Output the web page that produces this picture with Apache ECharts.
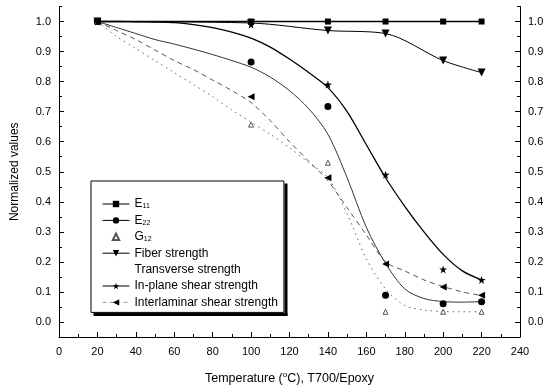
<!DOCTYPE html>
<html>
<head>
<meta charset="utf-8">
<script src="https://cdn.jsdelivr.net/npm/echarts@6/dist/echarts.min.js"></script>
<style>
  html, body { margin: 0; padding: 0; background: #fff; overflow: hidden; }
  #chart { width: 555px; height: 390px; }
</style>
</head>
<body>
<div id="chart"></div>
<script>
// measured temperatures (°C)
const temps = [20, 100, 140, 170, 200, 220];

// measured normalized values
const e11 = [1.0, 1.0, 1.0, 1.0, 1.0, 1.0];
const e22 = [1.0, 0.865, 0.717, 0.089, 0.061, 0.067];
const g12 = [1.0, 0.657, 0.53, 0.034, 0.034, 0.034];
const fiber = [1.0, 0.995, 0.97, 0.96, 0.87, 0.83];
const inPlane = [1.0, 0.99, 0.79, 0.49, 0.175, 0.14];
const interlaminar = [1.0, 0.75, 0.48, 0.193, 0.116, 0.089];

// fitted curves, every 10 °C
const fitTemps = [20, 30, 40, 50, 60, 70, 80, 90, 100, 110, 120, 130, 140, 150, 160, 170, 180, 190, 200, 210, 220];
const e22Fit = [1.0, 0.98, 0.96, 0.94, 0.925, 0.908, 0.89, 0.87, 0.848, 0.815, 0.77, 0.71, 0.625, 0.48, 0.315, 0.195, 0.11, 0.078, 0.068, 0.066, 0.068];
const g12Fit = [1.0, 0.95, 0.91, 0.87, 0.83, 0.79, 0.75, 0.705, 0.665, 0.625, 0.58, 0.53, 0.48, 0.36, 0.21, 0.11, 0.055, 0.04, 0.035, 0.034, 0.034];
const inPlaneFit = [1.0, 1.0, 0.999, 0.998, 0.996, 0.99, 0.98, 0.965, 0.945, 0.915, 0.875, 0.83, 0.78, 0.70, 0.59, 0.48, 0.385, 0.30, 0.225, 0.17, 0.14];
const interFit = [1.0, 0.97, 0.94, 0.905, 0.87, 0.84, 0.805, 0.77, 0.73, 0.67, 0.60, 0.535, 0.47, 0.38, 0.29, 0.20, 0.17, 0.14, 0.118, 0.10, 0.088];

const xTicks = [0, 240, 20];
const yMajor = [0, 0.1, 0.2, 0.3, 0.4, 0.5, 0.6, 0.7, 0.8, 0.9, 1.0];
const yMinor = [-0.05, 0.05, 0.15, 0.25, 0.35, 0.45, 0.55, 0.65, 0.75, 0.85, 0.95, 1.05];

const star = 'path://M0,-10 L2.35,-3.24 L9.51,-3.09 L3.8,1.24 L5.88,8.09 L0,4 L-5.88,8.09 L-3.8,1.24 L-9.51,-3.09 L-2.35,-3.24 Z';
const font = '"Liberation Sans", Arial, sans-serif';
const hidden = { opacity: 0 };

const pairs = (xs, ys) => xs.map((x, i) => [x, ys[i]]);

const chart = echarts.init(document.getElementById('chart'), null, { width: 555, height: 390 });

function yAx(position, values, len, labels, extra) {
  return Object.assign({
    type: 'value',
    position: position,
    min: -0.05,
    max: 1.05,
    axisLine: { show: labels, onZero: false, lineStyle: { color: '#000', width: 1 } },
    axisTick: { show: true, inside: true, length: len, customValues: values, lineStyle: { color: '#000' } },
    axisLabel: {
      show: labels,
      customValues: values,
      margin: 8,
      color: '#000',
      fontSize: 11,
      fontFamily: font,
      formatter: v => v.toFixed(1)
    },
    splitLine: { show: false }
  }, extra || {});
}

const names = {
  E11: 'E{sub|11}',
  E22: 'E{sub|22}',
  G12: 'G{sub|12}'
};

// legend box (left, top, width, height) and its drop shadow
const lg = { x: 90.5, y: 180.5, w: 194, h: 132.5 };
const sh = 3;

chart.setOption({
  animation: false,
  backgroundColor: '#fff',
  grid: { left: 59, right: 35, top: 6.5, bottom: 48 },
  graphic: {
    elements: [
      { type: 'rect', z: 100, zlevel: 0, shape: { x: lg.x + lg.w, y: lg.y + sh, width: sh, height: lg.h }, style: { fill: '#000' } },
      { type: 'rect', z: 100, zlevel: 0, shape: { x: lg.x + sh, y: lg.y + lg.h, width: lg.w, height: sh }, style: { fill: '#000' } }
    ]
  },
  xAxis: {
    type: 'value',
    position: 'bottom',
    min: xTicks[0],
    max: xTicks[1],
    interval: xTicks[2],
    name: 'Temperature ({sup|o}C), T700/Epoxy',
    nameLocation: 'middle',
    nameGap: 34,
    nameTextStyle: {
      color: '#000', fontSize: 12.5, fontFamily: font,
      rich: { sup: { fontSize: 8, padding: [0, 0, 7, 0], fontFamily: font, color: '#000' } }
    },
    axisLine: { onZero: false, lineStyle: { color: '#000', width: 1 } },
    axisTick: { inside: true, length: 5, lineStyle: { color: '#000' } },
    minorTick: { show: true, splitNumber: 2, length: 3, lineStyle: { color: '#000' } },
    axisLabel: { margin: 9, color: '#000', fontSize: 11, fontFamily: font },
    splitLine: { show: false }
  },
  yAxis: [
    yAx('left', yMajor, 5, true, {
      name: 'Normalized values',
      nameLocation: 'middle',
      nameGap: 38,
      nameTextStyle: { color: '#000', fontSize: 12, fontFamily: font }
    }),
    yAx('right', yMajor, 5, true),
    yAx('left', yMinor, 3, false),
    yAx('right', yMinor, 3, false)
  ],
  legend: {
    orient: 'vertical',
    left: 91,
    top: 181,
    z: 10,
    padding: [17, 6, 4, 10.5],
    itemWidth: 27,
    itemHeight: 8,
    itemGap: 4.4,
    backgroundColor: '#fff',
    borderColor: '#000',
    borderWidth: 1,
    formatter: n => names[n] || n,
    textStyle: {
      color: '#000', fontSize: 12, fontFamily: font, lineHeight: 12,
      rich: { sub: { fontSize: 7, lineHeight: 12, padding: [5, 0, 0, 0], fontFamily: font, color: '#000' } }
    },
    data: [
      { name: 'E11', lineStyle: { opacity: 1, color: '#000', width: 1 } },
      { name: 'E22', lineStyle: { opacity: 1, color: '#000', width: 1 } },
      { name: 'G12' },
      { name: 'Fiber strength', lineStyle: { opacity: 1, color: '#000', width: 1 } },
      { name: 'Transverse strength' },
      { name: 'In-plane shear strength', lineStyle: { opacity: 1, color: '#000', width: 1 } },
      { name: 'Interlaminar shear strength', lineStyle: { opacity: 1, color: '#999', width: 1, type: [4, 3] } }
    ]
  },
  series: [
    // marker series (legend sources)
    { name: 'E11', type: 'line', data: pairs(temps, e11), symbol: 'rect', symbolSize: 6,
      itemStyle: { color: '#000' }, lineStyle: { color: '#000', width: 1.5 }, z: 5 },
    { name: 'E22', type: 'line', data: pairs(temps, e22), symbol: 'circle', symbolSize: 7,
      itemStyle: { color: '#000' }, lineStyle: hidden, z: 5 },
    { name: 'G12', type: 'line', data: pairs(temps, g12), symbol: 'triangle', symbolSize: 5,
      itemStyle: { color: '#fff', borderColor: '#555', borderWidth: 1 }, lineStyle: hidden, z: 5 },
    { name: 'Fiber strength', type: 'line', data: pairs(temps, fiber), symbol: 'triangle', symbolRotate: 180, symbolSize: 8,
      smooth: 0.3, itemStyle: { color: '#000' }, lineStyle: { color: '#000', width: 1 }, z: 5 },
    { name: 'Transverse strength', type: 'line', data: [], symbol: 'none', itemStyle: hidden, lineStyle: hidden },
    { name: 'In-plane shear strength', type: 'line', data: pairs(temps, inPlane), symbol: star, symbolSize: 8,
      itemStyle: { color: '#000' }, lineStyle: hidden, z: 5 },
    { name: 'Interlaminar shear strength', type: 'line', data: pairs(temps, interlaminar), symbol: 'triangle', symbolRotate: 90, symbolSize: 7,
      itemStyle: { color: '#000' }, lineStyle: hidden, z: 5 },
    // fitted curves
    { name: 'E22', type: 'line', data: pairs(fitTemps, e22Fit), symbol: 'none', smooth: 0.3,
      lineStyle: { color: '#333', width: 1 }, z: 3 },
    { name: 'G12', type: 'line', data: pairs(fitTemps, g12Fit), symbol: 'none', smooth: 0.3,
      lineStyle: { color: '#666', width: 1, type: [1.5, 4] }, z: 3 },
    { name: 'In-plane shear strength', type: 'line', data: pairs(fitTemps, inPlaneFit), symbol: 'none', smooth: 0.3,
      lineStyle: { color: '#000', width: 1.3 }, z: 3 },
    { name: 'Interlaminar shear strength', type: 'line', data: pairs(fitTemps, interFit), symbol: 'none', smooth: 0.3,
      lineStyle: { color: '#555', width: 1, type: [5, 4] }, z: 3 }
  ]
});
</script>
</body>
</html>
